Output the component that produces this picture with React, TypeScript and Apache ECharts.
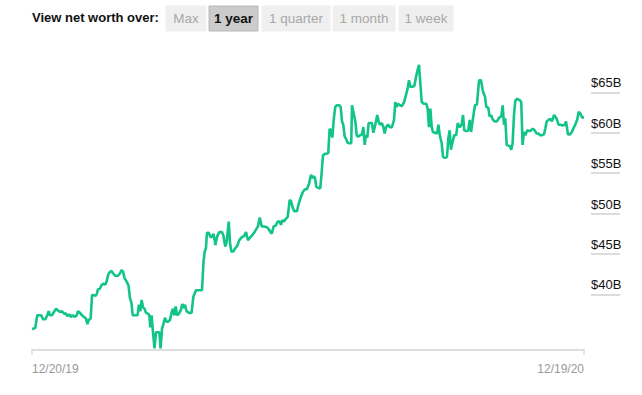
import React, { useEffect, useRef } from "react";
import * as echarts from "echarts";

// Days since 12/20/19
const days = [
  0, 1.8, 2.2, 3.5, 6.1, 7.3, 8.8, 10.1, 11.0, 11.9, 13.2, 14.5, 15.9, 17.2, 18.5, 19.8, 21.2, 22.5, 23.3, 24.7,
  25.6, 26.9, 28.2, 29.6, 30.4, 31.7, 33.1, 34.4, 35.7, 36.6, 37.5, 38.8, 39.7, 40.5, 41.9, 42.8, 43.6, 45.0, 45.8, 47.1,
  48.5, 49.4, 50.3, 51.2, 52.6, 53.6, 54.9, 56.9, 58.2, 59.2, 60.2, 61.2, 62.5, 63.8, 64.8, 65.7, 66.6, 68.1, 69.8, 70.7,
  71.6, 72.5, 73.4, 74.4, 75.4, 76.7, 77.6, 78.2, 79.1, 80.0, 81.0, 82.0, 83.3, 84.2, 85.0, 86.0, 86.6, 87.9, 88.9, 89.9,
  91.2, 92.4, 93.2, 94.1, 95.0, 95.9, 97.2, 98.5, 99.4, 100.3, 101.2, 102.2, 103.8, 105.5, 106.7, 108.4, 110.4, 112.4, 113.4, 114.1,
  115.0, 115.7, 117.0, 118.0, 119.0, 119.9, 120.8, 121.2, 122.5, 123.8, 125.6, 126.5, 127.8, 128.7, 130.1, 130.9, 131.8, 133.1, 134.4, 135.7,
  137.1, 138.9, 140.2, 141.5, 142.8, 144.1, 145.5, 146.8, 148.1, 149.4, 150.6, 151.9, 153.6, 155.4, 156.7, 158.5, 159.8, 161.1, 162.5, 163.8,
  164.6, 165.5, 166.4, 167.7, 169.1, 170.4, 171.3, 172.6, 173.4, 175.2, 176.5, 177.9, 179.2, 180.5, 181.8, 183.2, 184.5, 185.3, 186.3, 187.1,
  188.0, 189.3, 190.6, 191.5, 192.4, 193.7, 195.1, 195.9, 196.8, 197.7, 198.6, 199.5, 200.5, 201.5, 203.2, 204.1, 205.0, 205.8, 206.8, 207.6,
  208.5, 209.8, 211.1, 211.6, 212.9, 213.8, 214.7, 215.6, 216.9, 218.2, 219.1, 220.0, 220.8, 221.7, 222.6, 223.5, 224.8, 225.7, 227.0, 228.3,
  229.2, 230.1, 231.4, 232.3, 233.2, 234.1, 235.4, 236.7, 238.0, 239.4, 240.2, 241.1, 242.0, 243.3, 244.6, 246.0, 247.3, 248.4, 249.3, 250.1,
  251.4, 252.8, 253.7, 255.0, 255.9, 256.7, 257.7, 259.0, 260.7, 261.6, 262.5, 263.4, 264.3, 265.1, 266.5, 267.8, 268.7, 269.6, 270.9, 271.8,
  273.1, 274.4, 275.3, 276.2, 277.0, 277.9, 279.2, 280.5, 281.5, 282.8, 284.1, 285.0, 285.8, 287.2, 288.5, 289.4, 290.3, 291.6, 292.9, 294.2,
  295.6, 296.9, 298.2, 299.5, 300.4, 301.7, 302.6, 303.5, 304.8, 306.1, 307.4, 309.0, 310.3, 311.2, 312.1, 312.9, 313.9, 315.2, 316.1, 316.9,
  317.8, 318.7, 319.6, 320.9, 322.7, 323.5, 324.4, 325.3, 326.2, 327.5, 329.3, 331.1, 332.4, 333.7, 335.0, 335.9, 337.2, 338.5, 339.4, 340.3,
  341.6, 343.0, 343.8, 345.2, 346.0, 347.0, 348.2, 349.6, 350.9, 352.2, 353.1, 354.4, 355.7, 357.0, 357.9, 359.2, 360.5, 361.5, 362.8, 363.7,
  365,
];

// Net worth, $ billions
const netWorth = [
  35.7, 35.8, 35.9, 37.4, 37.4, 36.9, 36.9, 37.4, 37.9, 37.4, 37.4, 37.8, 38.2, 38.0, 37.8, 37.9, 37.6, 37.6, 37.3, 37.5,
  37.2, 37.4, 37.2, 37.4, 37.9, 37.7, 37.4, 37.2, 37.0, 36.3, 36.8, 37.0, 39.9, 39.9, 39.8, 40.0, 40.6, 40.7, 41.1, 41.3,
  41.2, 41.6, 42.4, 42.7, 42.9, 42.6, 42.3, 42.3, 42.6, 43.0, 42.8, 42.0, 41.6, 41.1, 39.5, 39.0, 37.4, 37.4, 37.4, 38.7,
  37.9, 39.3, 38.4, 38.2, 37.7, 37.6, 37.4, 35.9, 37.4, 35.3, 33.3, 35.3, 35.3, 35.3, 33.3, 35.8, 36.1, 37.1, 36.6, 36.6,
  36.8, 37.8, 38.2, 37.4, 38.5, 37.4, 37.6, 38.1, 38.8, 38.3, 38.7, 37.9, 37.7, 37.7, 39.7, 40.5, 40.5, 40.5, 44.0, 45.2,
  45.7, 47.6, 47.6, 47.1, 47.1, 47.5, 46.7, 46.1, 47.2, 47.7, 47.7, 47.3, 45.9, 46.5, 49.0, 46.4, 45.3, 45.3, 45.7, 46.0,
  46.7, 47.1, 47.2, 47.7, 46.7, 47.0, 47.3, 47.6, 48.0, 48.4, 49.5, 48.4, 48.4, 48.3, 48.0, 47.5, 48.4, 48.5, 49.0, 49.0,
  48.6, 49.2, 49.0, 49.3, 49.6, 51.7, 51.5, 50.6, 50.3, 50.3, 51.3, 52.1, 52.7, 53.0, 53.0, 53.7, 54.8, 54.4, 54.6, 54.4,
  53.3, 53.2, 53.1, 55.0, 57.2, 57.4, 57.4, 57.5, 60.5, 60.3, 59.4, 61.6, 63.2, 63.4, 63.4, 63.2, 61.4, 61.0, 59.5, 59.3,
  58.8, 58.7, 58.7, 63.4, 62.2, 61.4, 59.7, 59.5, 59.7, 59.8, 60.7, 58.5, 59.7, 59.4, 61.2, 61.2, 61.2, 60.0, 61.0, 62.2,
  61.4, 61.0, 61.2, 60.7, 59.9, 60.7, 61.0, 60.7, 60.7, 61.6, 63.8, 63.2, 63.6, 63.4, 63.3, 63.8, 64.7, 65.5, 66.5, 65.7,
  65.7, 65.8, 66.7, 67.8, 68.4, 66.3, 63.8, 63.6, 63.6, 63.0, 60.7, 63.0, 60.7, 60.1, 60.0, 59.9, 61.0, 59.7, 58.7, 57.0,
  56.9, 57.0, 59.3, 60.3, 57.9, 58.7, 59.7, 59.7, 61.2, 60.7, 61.0, 62.2, 60.3, 60.2, 60.3, 61.6, 60.1, 61.8, 63.4, 63.5,
  66.5, 66.5, 65.1, 64.5, 63.2, 63.1, 62.0, 62.2, 61.6, 61.4, 61.4, 61.9, 62.0, 63.4, 61.0, 61.8, 58.5, 58.4, 58.3, 57.9,
  58.7, 62.2, 64.0, 64.2, 64.0, 63.8, 58.5, 60.1, 59.7, 60.3, 60.2, 60.5, 60.3, 59.9, 59.9, 59.7, 59.7, 59.8, 60.5, 61.4,
  61.6, 61.7, 61.4, 62.2, 62.0, 61.7, 61.0, 61.0, 60.9, 61.0, 61.4, 59.8, 59.8, 60.1, 60.5, 61.0, 61.6, 62.6, 62.3, 61.9,
  61.9,
];

const xLabels = ["12/20/19", "12/19/20"];
const yTickMin = 40;
const yTickMax = 65;
const yTickStep = 5;
const yMin = 33.1;
const yMax = 70;
const buttons = ["Max", "1 year", "1 quarter", "1 month", "1 week"];
const activeButton = "1 year";

const FONT = "'Liberation Sans', Arial, Helvetica, sans-serif";

export default function App() {
  const ref = useRef<HTMLDivElement>(null);

  useEffect(() => {
    if (!ref.current) return;
    const chart = echarts.init(ref.current, undefined, { renderer: "svg" });

    const btnX = [166, 209, 262, 333, 399];
    const btnW = [40, 49, 68, 62, 54];
    const graphic: any[] = [
      {
        type: "text",
        left: 32,
        top: 11,
        style: {
          text: "View net worth over:",
          fill: "#111",
          font: `bold 13px ${FONT}`,
        },
      },
    ];
    buttons.forEach((b, i) => {
      const active = b === activeButton;
      graphic.push({
        type: "rect",
        shape: { x: btnX[i], y: 6, width: btnW[i], height: 25 },
        style: {
          fill: active ? "#cbcbcb" : "#efefef",
          stroke: active ? "#b8b8b8" : "#efefef",
          lineWidth: 1,
        },
      });
      graphic.push({
        type: "text",
        x: btnX[i] + btnW[i] / 2,
        y: 18.5,
        style: {
          text: b,
          fill: active ? "#111" : "#a8a8a8",
          font: `${active ? "bold " : ""}13.5px ${FONT}`,
          align: "center",
          verticalAlign: "middle",
        },
      });
    });

    // Main plot geometry
    const top = 52;
    const bottom = 45;
    const plotH = 395 - top - bottom;
    const pxPer = plotH / (yMax - yMin);
    // Label grid spans exactly the labelled tick range, on the same scale
    const labTop = top + (yMax - yTickMax) * pxPer;
    const labBottom = 395 - (top + (yMax - yTickMin) * pxPer);

    chart.setOption({
      animation: false,
      graphic,
      grid: [
        { left: 32, right: 58, top, bottom, containLabel: false },
        { left: 591, right: 22, top: labTop, bottom: labBottom, containLabel: false },
      ],
      xAxis: [
        {
          type: "value",
          gridIndex: 0,
          min: 0,
          max: 365,
          interval: 365,
          splitLine: { show: false },
          axisLine: { show: true, lineStyle: { color: "#dedede", width: 2 } },
          axisTick: { show: true, length: 5, lineStyle: { color: "#dedede", width: 1.5 } },
          axisLabel: {
            margin: 13,
            color: "#999",
            fontSize: 12,
            fontFamily: FONT,
            alignMinLabel: "left",
            alignMaxLabel: "right",
            formatter: (v: number) => (v === 0 ? xLabels[0] : xLabels[1]),
          },
        },
        { type: "value", gridIndex: 1, show: false, min: 0, max: 1 },
      ],
      yAxis: [
        {
          type: "value",
          gridIndex: 0,
          min: yMin,
          max: yMax,
          show: false,
          splitLine: { show: false },
        },
        {
          type: "value",
          gridIndex: 1,
          position: "left",
          min: yTickMin,
          max: yTickMax,
          interval: yTickStep,
          splitLine: { show: false },
          axisLine: { show: false },
          axisTick: {
            show: true,
            inside: true,
            length: 29,
            lineStyle: { color: "#dcdcdc", width: 2 },
          },
          axisLabel: {
            margin: 0,
            align: "left",
            color: "#111",
            fontSize: 13,
            fontFamily: FONT,
            verticalAlign: "bottom",
            padding: [0, 0, 3, 0],
            formatter: (v: number) => `$${v}B`,
          },
        },
      ],
      series: [
        {
          type: "line",
          xAxisIndex: 0,
          yAxisIndex: 0,
          data: days.map((d, i) => [d, netWorth[i]]),
          showSymbol: false,
          symbol: "none",
          lineStyle: { color: "#12c485", width: 2.6 },
          silent: true,
        },
      ],
    });

    return () => chart.dispose();
  }, []);

  return (
    <div
      ref={ref}
      style={{ position: "absolute", left: 0, top: 0, width: 642, height: 395 }}
    />
  );
}
